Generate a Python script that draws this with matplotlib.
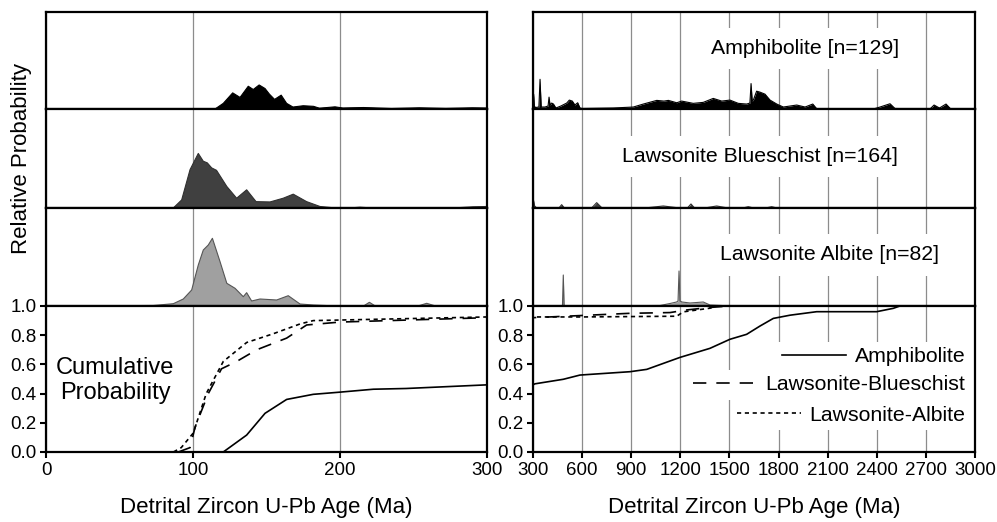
import matplotlib
matplotlib.use("Agg")
import matplotlib.pyplot as plt

plt.rcParams['font.family'] = ['Liberation Sans', 'DejaVu Sans']

# relative probability curves (age in Ma, height)
amph_age = [0, 115, 120.6, 127, 132, 137.6, 141, 145, 149, 152, 155.5, 160, 163.7, 168, 175,
            182, 186, 196.6, 202, 216, 235, 254, 272, 290, 300, 304, 308, 315, 336, 343,
            350, 373, 392, 398, 404, 414, 425, 440, 470, 506, 522, 540, 556, 573, 587,
            600, 790, 913, 974, 1056, 1100, 1127, 1178, 1208, 1279, 1340, 1401, 1453, 1503,
            1554, 1605, 1625, 1632, 1639, 1646, 1666, 1687, 1717, 1748, 1789, 1829, 1911,
            1962, 2009, 2033, 2379, 2420, 2481, 2511, 2725, 2750, 2783, 2823, 2852, 3000]
amph_p = [0, 0, 5.7, 16.3, 11.7, 23, 19.7, 24.3, 20.7, 15, 9.7, 14, 5.7, 2, 3.3,
          2.7, 0.8, 2.2, 1, 1.5, 0.5, 1.2, 0.6, 1.2, 1, 15, 3, 1.5, 2, 30,
          2, 2, 3, 12, 4, 6, 5, 1, 3, 6, 9, 8, 4, 6.3, 1,
          0.5, 1, 2, 5, 8.7, 8, 8.7, 6.3, 8, 5.7, 6.7, 10.7, 8, 9,
          5.7, 5, 6, 25.7, 8, 9, 18, 17, 15, 9, 5, 2, 4,
          2, 5, 0.3, 0, 2, 5.3, 0.5, 0, 4, 1, 5, 0, 0]

blue_age = [0, 86.6, 92.3, 98, 103.6, 107, 109.7, 112.7, 116, 123, 129.7, 136.5, 142.9,
            152.4, 161.4, 168.2, 177.3, 186.4, 195, 208, 213.6, 220, 280, 290.6, 300, 303,
            310, 320, 460, 475, 490, 660, 689, 720, 1000, 1096, 1180, 1245, 1265, 1285,
            1360, 1422, 1480, 1590, 1615, 1640, 1730, 1758, 1790, 3000]
blue_p = [0, 0, 8, 38, 54, 46.3, 44.7, 39.7, 37.3, 21.3, 9.7, 18, 6.3,
          6, 9.7, 13.7, 6.3, 1.5, 0.3, 0.2, 0.8, 0.2, 0.3, 1.2, 1.5, 7.7,
          2, 0.3, 0.3, 3.3, 0.3, 0.3, 5.3, 0.3, 0.3, 2, 0.3, 0.3, 4, 0.3,
          0.3, 2, 0.3, 0.3, 1.3, 0.3, 0.3, 1.3, 0, 0]

alb_age = [0, 73, 86.6, 93.4, 99.1, 103.6, 107, 110.4, 113.2, 118.4, 123, 128.6, 134.2,
           136.5, 139.9, 145.6, 156.9, 164.8, 172.8, 181.8, 193.2, 212, 216, 220, 224,
           250, 253, 259, 265, 275, 470, 480, 485, 490, 500, 1076, 1137, 1177, 1186,
           1192, 1198, 1210, 1259, 1300, 1340, 1381, 1450, 1500, 3000]
alb_p = [0, 0.5, 2.3, 7, 16, 41, 56, 61, 67.7, 44.3, 22.7, 17.7, 9.3,
         13.3, 5, 7, 6, 10.3, 2, 1, 0.3, 0, 0, 3.7, 0,
         0, 0, 2.7, 0, 0, 0, 0.5, 31, 0.5, 0, 0.5, 2.5, 4, 5,
         35, 5, 4, 3, 3.5, 4, 1, 0.5, 0, 0]

# cumulative probability curves
amph_cum_age = [120.6, 136.5, 149, 163.7, 181.8, 200, 222.7, 245, 300, 312, 485, 587, 893,
                995, 1198, 1381, 1503, 1605, 1687, 1768, 1870, 2033, 2399, 2501, 2541, 2760]
amph_cum = [0, 0.116, 0.265, 0.36, 0.395, 0.41, 0.43, 0.435, 0.46, 0.467, 0.498, 0.527, 0.55,
            0.566, 0.648, 0.71, 0.772, 0.806, 0.863, 0.915, 0.937, 0.961, 0.961, 0.984, 1.0, 1.0]
blue_cum_age = [90, 98, 101.4, 110.4, 119.4, 129.7, 143.3, 163.7, 177.3, 200, 300, 600, 893,
                1137, 1239, 1381, 1500]
blue_cum = [0, 0.03, 0.17, 0.40, 0.57, 0.62, 0.70, 0.78, 0.87, 0.89, 0.92, 0.935, 0.95,
            0.955, 0.973, 0.99, 1.0]
alb_cum_age = [86.7, 92, 100.2, 109, 120.6, 136.5, 154.6, 172.8, 181.8, 300, 600, 1178,
               1218, 1381, 1420]
alb_cum = [0, 0.03, 0.13, 0.40, 0.62, 0.75, 0.81, 0.877, 0.90, 0.925, 0.925, 0.93,
           0.96, 0.985, 1.0]

labels = ['Amphibolite [n=129]', 'Lawsonite Blueschist [n=164]', 'Lawsonite Albite [n=82]']
legend_names = ['Amphibolite', 'Lawsonite-Blueschist', 'Lawsonite-Albite']
left_ticks = [0, 100, 200, 300]
right_ticks = [300, 600, 900, 1200, 1500, 1800, 2100, 2400, 2700, 3000]
cum_ticks = [0.0, 0.2, 0.4, 0.6, 0.8, 1.0]

curves = [(amph_age, amph_p), (blue_age, blue_p), (alb_age, alb_p)]
fills = ['black', '#404040', '#a0a0a0']
edges = ['black', '#303030', '#555555']
cums = [(amph_cum_age, amph_cum), (blue_cum_age, blue_cum), (alb_cum_age, alb_cum)]
styles = ['-', (0, (8, 6)), (0, (2.5, 2.2))]

fig = plt.figure(figsize=(9.97, 5.22), dpi=100)
W, H = 997.0, 522.0
rows = [(12, 109), (109, 208), (208, 306), (306, 452)]
cols = [(46, 487, 0, 300, left_ticks), (533, 975, 300, 3000, right_ticks)]

grid_kw = dict(color='#8c8c8c', lw=0.9)
for ci, (x0, x1, lo, hi, ticks) in enumerate(cols):
    for ri, (y0, y1) in enumerate(rows):
        ax = fig.add_axes([x0 / W, 1 - y1 / H, (x1 - x0) / W, (y1 - y0) / H])
        ax.set_xlim(lo, hi)
        ax.set_xticks(ticks)
        ax.set_axisbelow(True)
        ax.grid(axis='x', **grid_kw)
        for s in ax.spines.values():
            s.set_linewidth(1.6)
        if ri < 3:
            a, p = curves[ri]
            ax.fill_between(a, p, 0, color=fills[ri], lw=0, zorder=2)
            ax.plot(a, p, color=edges[ri], lw=0.8, zorder=2)
            ax.set_ylim(0, 98)
            ax.set_yticks([])
            ax.tick_params(axis='x', length=0, labelbottom=False)
            if ci == 1:
                tx = [1961, 1687, 2114][ri]
                ty = [61, 51, 51][ri]
                ax.text(tx, ty, labels[ri], ha='center', va='center', fontsize=15.3,
                        zorder=4, bbox=dict(facecolor='white', edgecolor='none', pad=8))
        else:
            handles = []
            for k in range(3):
                a, c = cums[k]
                ln, = ax.plot(a, c, color='black', lw=1.2, ls=styles[k], zorder=3)
                handles.append(ln)
            ax.set_ylim(0, 1)
            ax.set_yticks(cum_ticks)
            ax.set_yticklabels(['%.1f' % t for t in cum_ticks])
            ax.set_xticklabels([str(t) for t in ticks])
            ax.tick_params(direction='out', length=4, width=1.5, labelsize=13.5, pad=3)
            ax.set_xlabel('Detrital Zircon U-Pb Age (Ma)', fontsize=16, labelpad=13)
            if ci == 0:
                ax.text(47, 0.49, 'Cumulative\nProbability', ha='center', va='center',
                        fontsize=17, linespacing=1.15)
            else:
                ys = [0.651, 0.459, 0.253]
                for k in range(3):
                    leg = ax.legend([handles[k]], [legend_names[k]], loc='center right',
                                    bbox_to_anchor=(0.99, ys[k]), fontsize=15.3,
                                    handlelength=3.0, handletextpad=0.4, borderpad=0.25,
                                    borderaxespad=0, frameon=True, fancybox=False,
                                    framealpha=1)
                    leg.get_frame().set_facecolor('white')
                    leg.get_frame().set_edgecolor('none')
                    leg.set_zorder(5)
                    if k < 2:
                        ax.add_artist(leg)

fig.text(22 / W, 1 - 159 / H, 'Relative Probability', rotation=90, ha='center',
         va='center', fontsize=16)

fig.savefig('out.png', dpi=100)
